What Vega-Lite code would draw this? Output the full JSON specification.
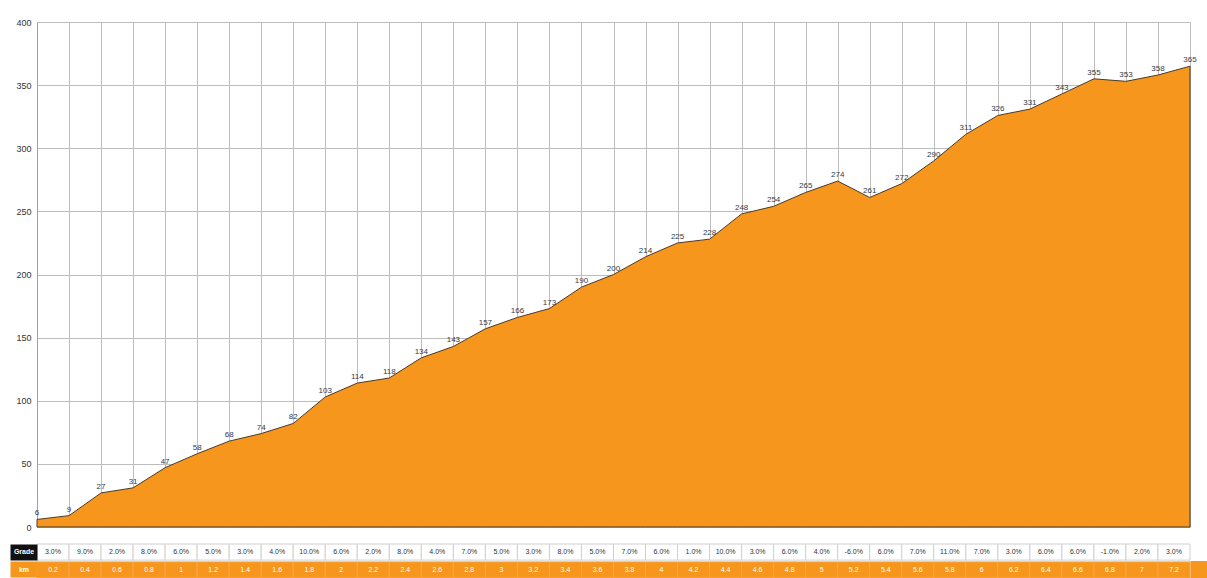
{
  "$schema": "https://vega.github.io/schema/vega-lite/v6.json",
  "padding": {"top": 18, "left": 2, "right": 0, "bottom": 0},
  "background": "#ffffff",
  "spacing": 11,
  "config": {"view": {"stroke": null}, "font": "Liberation Sans"},
  "datasets": {
    "profile": [
      {"dist": 0, "elev": 6}, {"dist": 0.2, "elev": 9}, {"dist": 0.4, "elev": 27}, {"dist": 0.6, "elev": 31},
      {"dist": 0.8, "elev": 47}, {"dist": 1.0, "elev": 58}, {"dist": 1.2, "elev": 68}, {"dist": 1.4, "elev": 74},
      {"dist": 1.6, "elev": 82}, {"dist": 1.8, "elev": 103}, {"dist": 2.0, "elev": 114}, {"dist": 2.2, "elev": 118},
      {"dist": 2.4, "elev": 134}, {"dist": 2.6, "elev": 143}, {"dist": 2.8, "elev": 157}, {"dist": 3.0, "elev": 166},
      {"dist": 3.2, "elev": 173}, {"dist": 3.4, "elev": 190}, {"dist": 3.6, "elev": 200}, {"dist": 3.8, "elev": 214},
      {"dist": 4.0, "elev": 225}, {"dist": 4.2, "elev": 228}, {"dist": 4.4, "elev": 248}, {"dist": 4.6, "elev": 254},
      {"dist": 4.8, "elev": 265}, {"dist": 5.0, "elev": 274}, {"dist": 5.2, "elev": 261}, {"dist": 5.4, "elev": 272},
      {"dist": 5.6, "elev": 290}, {"dist": 5.8, "elev": 311}, {"dist": 6.0, "elev": 326}, {"dist": 6.2, "elev": 331},
      {"dist": 6.4, "elev": 343}, {"dist": 6.6, "elev": 355}, {"dist": 6.8, "elev": 353}, {"dist": 7.0, "elev": 358},
      {"dist": 7.2, "elev": 365}
    ],
    "table": [
      {"km": "0.2", "Grade": "3.0%"}, {"km": "0.4", "Grade": "9.0%"}, {"km": "0.6", "Grade": "2.0%"}, {"km": "0.8", "Grade": "8.0%"},
      {"km": "1", "Grade": "6.0%"}, {"km": "1.2", "Grade": "5.0%"}, {"km": "1.4", "Grade": "3.0%"}, {"km": "1.6", "Grade": "4.0%"},
      {"km": "1.8", "Grade": "10.0%"}, {"km": "2", "Grade": "6.0%"}, {"km": "2.2", "Grade": "2.0%"}, {"km": "2.4", "Grade": "8.0%"},
      {"km": "2.6", "Grade": "4.0%"}, {"km": "2.8", "Grade": "7.0%"}, {"km": "3", "Grade": "5.0%"}, {"km": "3.2", "Grade": "3.0%"},
      {"km": "3.4", "Grade": "8.0%"}, {"km": "3.6", "Grade": "5.0%"}, {"km": "3.8", "Grade": "7.0%"}, {"km": "4", "Grade": "6.0%"},
      {"km": "4.2", "Grade": "1.0%"}, {"km": "4.4", "Grade": "10.0%"}, {"km": "4.6", "Grade": "3.0%"}, {"km": "4.8", "Grade": "6.0%"},
      {"km": "5", "Grade": "4.0%"}, {"km": "5.2", "Grade": "-6.0%"}, {"km": "5.4", "Grade": "6.0%"}, {"km": "5.6", "Grade": "7.0%"},
      {"km": "5.8", "Grade": "11.0%"}, {"km": "6", "Grade": "7.0%"}, {"km": "6.2", "Grade": "3.0%"}, {"km": "6.4", "Grade": "6.0%"},
      {"km": "6.6", "Grade": "6.0%"}, {"km": "6.8", "Grade": "-1.0%"}, {"km": "7", "Grade": "2.0%"}, {"km": "7.2", "Grade": "3.0%"}
    ]
  },
  "vconcat": [
    {
      "width": 1153,
      "height": 505,
      "data": {"name": "profile"},
      "encoding": {
        "x": {
          "field": "dist", "type": "quantitative",
          "scale": {"domain": [0, 7.2], "nice": false, "zero": false},
          "axis": {
            "values": [0, 0.2, 0.4, 0.6, 0.8, 1, 1.2, 1.4, 1.6, 1.8, 2, 2.2, 2.4, 2.6, 2.8, 3, 3.2, 3.4, 3.6, 3.8, 4, 4.2, 4.4, 4.6, 4.8, 5, 5.2, 5.4, 5.6, 5.8, 6, 6.2, 6.4, 6.6, 6.8, 7, 7.2],
            "grid": true, "gridColor": "#bdbdbd", "gridOpacity": 1, "labels": false, "ticks": false, "domain": false, "title": null
          }
        },
        "y": {
          "field": "elev", "type": "quantitative",
          "scale": {"domain": [0, 400], "nice": false},
          "axis": {
            "values": [0, 50, 100, 150, 200, 250, 300, 350, 400],
            "grid": true, "gridColor": "#bdbdbd", "gridOpacity": 1, "ticks": false, "domain": true, "domainColor": "#a0a0a0",
            "labelFontSize": 9, "labelColor": "#333333", "labelPadding": 6, "title": null
          }
        }
      },
      "layer": [
        {"mark": {"type": "area", "color": "#F7961C", "opacity": 1, "stroke": "#4a3a2a", "strokeWidth": 1}},
        {
          "mark": {"type": "text", "baseline": "bottom", "dy": -2, "fontSize": 8, "color": "#2f3a4a"},
          "encoding": {"text": {"field": "elev", "type": "quantitative"}}
        }
      ]
    },
    {
      "width": 1153,
      "height": 34,
      "data": {"name": "table"},
      "transform": [{"fold": ["Grade", "km"], "as": ["row", "label"]}],
      "encoding": {
        "x": {
          "field": "km", "type": "nominal", "sort": null,
          "scale": {
            "domain": ["0.2", "0.4", "0.6", "0.8", "1", "1.2", "1.4", "1.6", "1.8", "2", "2.2", "2.4", "2.6", "2.8", "3", "3.2", "3.4", "3.6", "3.8", "4", "4.2", "4.4", "4.6", "4.8", "5", "5.2", "5.4", "5.6", "5.8", "6", "6.2", "6.4", "6.6", "6.8", "7", "7.2"],
            "paddingInner": 0, "paddingOuter": 0
          },
          "axis": null
        }
      },
      "layer": [
        {
          "mark": {"type": "rect", "strokeWidth": 1},
          "encoding": {
            "y": {
              "field": "row", "type": "nominal",
              "scale": {"domain": ["Grade", "km"], "paddingInner": 0.1, "paddingOuter": 0},
              "axis": {
                "title": null, "domain": false, "grid": false,
                "ticks": true, "tickSize": 27, "tickWidth": 16, "tickCap": "butt",
                "tickColor": {"condition": {"test": "datum.value === 'Grade'", "value": "#111111"}, "value": "#F7961C"},
                "labelColor": "#ffffff", "labelAlign": "center", "labelBaseline": "middle", "labelPadding": -13.5,
                "labelFontSize": 7, "labelFontWeight": "bold"
              }
            },
            "fill": {"field": "row", "type": "nominal", "scale": {"domain": ["Grade", "km"], "range": ["#ffffff", "#F7961C"]}, "legend": null},
            "stroke": {"field": "row", "type": "nominal", "scale": {"domain": ["Grade", "km"], "range": ["#d0d0d0", "#F9A640"]}, "legend": null}
          }
        },
        {
          "mark": {"type": "text", "fontSize": 7},
          "encoding": {
            "y": {
              "field": "row", "type": "nominal",
              "axis": {
                "orient": "right", "title": null, "domain": false, "grid": false, "labels": false,
                "ticks": true, "tickSize": 17, "tickWidth": 17, "tickCap": "butt",
                "tickColor": {"condition": {"test": "datum.value === 'Grade'", "value": "#ffffff"}, "value": "#F7961C"}
              }
            },
            "text": {"field": "label", "type": "nominal"},
            "color": {"field": "row", "type": "nominal", "scale": {"domain": ["Grade", "km"], "range": ["#333333", "#ffffff"]}, "legend": null}
          }
        }
      ],
      "resolve": {"axis": {"y": "independent"}}
    }
  ]
}
